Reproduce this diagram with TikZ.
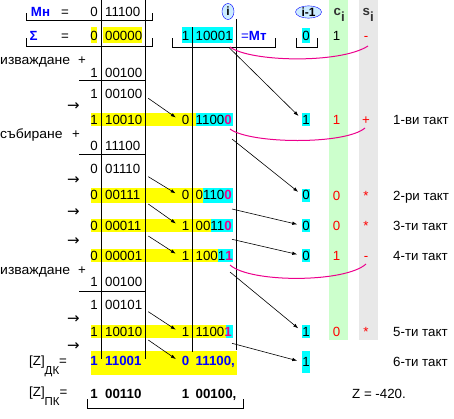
\documentclass[tikz,border=0pt]{standalone}
\usepackage{fontspec}
\setmainfont{Liberation Sans}
\newfontfamily\arrowfont{DejaVu Sans}
\usetikzlibrary{arrows.meta, shapes.geometric}
\definecolor{hlyellow}{RGB}{255,255,0}
\definecolor{hlcyan}{RGB}{0,255,255}
\definecolor{colgreen}{RGB}{204,255,204}
\definecolor{colgray}{RGB}{232,232,232}
\definecolor{ovalfill}{RGB}{204,236,255}
\definecolor{hdgray}{RGB}{51,51,51}
\newcommand{\lastbit}[1]{{\color{magenta}\bfseries #1}}
\newcommand{\wideword}[1]{\scalebox{1.05}[1]{#1}}
\tikzset{
	txt/.style={inner sep=0pt, text height=9.5pt, text depth=0pt, font=\fontsize{13.3pt}{15pt}\selectfont},
	sign/.style={txt},
	bits/.style={txt, anchor=west},
	note/.style={txt, anchor=west},
	prev/.style={txt, fill=hlcyan, minimum width=7pt, minimum height=13pt},
	flag/.style={txt, text=red},
	regname/.style={txt, text=blue, font=\fontsize{13.3pt}{15pt}\selectfont\bfseries},
	total/.style={txt, font=\fontsize{13.3pt}{15pt}\selectfont\bfseries},
	oval/.style={ellipse, draw=blue, fill=ovalfill, inner sep=0pt, font=\fontsize{12pt}{14pt}\selectfont\bfseries},
	colhead/.style={inner sep=0pt, anchor=base west, text=hdgray, font=\fontsize{13.3pt}{15pt}\selectfont\bfseries},
	shiftarrow/.style={txt, font=\arrowfont\fontsize{15pt}{16pt}\selectfont},
	rule/.style={line width=1pt},
	arr/.style={-{Latex[length=5pt,width=3.5pt]}, line width=0.6pt},
	carry/.style={magenta, line width=1pt},
}
\begin{document}
\begin{tikzpicture}[x=1pt, y=-1pt]
	\useasboundingbox (0,0) rectangle (454,418);
	% c_i and s_i columns
	\fill[colgreen] (329,0) rectangle (348,340);
	\fill[colgray] (359,0) rectangle (378,340);
	
	% highlighted bits
	\fill[hlyellow] (91,27) rectangle (97,43.3);
	\fill[hlyellow] (103,27) rectangle (142,43.3);
	\fill[hlcyan] (182,27) rectangle (233,43.3);
	\fill[hlyellow] (91,113.3) rectangle (195.5,125.7);
	\fill[hlcyan] (195.5,113.3) rectangle (233,125.7);
	\fill[hlyellow] (91,187.5) rectangle (203,202.5);
	\fill[hlcyan] (203,187.5) rectangle (233,202.5);
	\fill[hlyellow] (91,219) rectangle (210.5,232);
	\fill[hlcyan] (210.5,219) rectangle (233,232);
	\fill[hlyellow] (91,249) rectangle (218,262);
	\fill[hlcyan] (218,249) rectangle (233,262);
	\fill[hlyellow] (91,325) rectangle (225.5,337.5);
	\fill[hlcyan] (225.5,325) rectangle (233,337.5);
	\fill[hlyellow] (91,350.5) rectangle (237,375);
	
	% register lines
	\draw[rule] (101,0) -- (101,359);
	\draw[rule] (145,0) -- (145,359);
	\draw[rule] (192,27) -- (192,352);
	\draw[rule] (236.5,19) -- (236.5,350);
	\draw[rule] (79,80) -- (145,80);
	\draw[rule] (79,154) -- (145,154);
	\draw[rule] (79,291.5) -- (145,291.5);
	
	% brackets
	\draw[rule] (26,13) -- (26,20) -- (152,20) -- (152,13);
	\draw[rule] (26,38) -- (26,46) -- (152,46) -- (152,38);
	\draw[rule] (172,38) -- (172,47) -- (275,47) -- (275,38);
	\draw[rule] (296,38) -- (296,47) -- (317,47) -- (317,38);
	\draw[rule] (87,399) -- (87,408) -- (243,408) -- (243,399);
	
	% head
	\node[regname] (mn) at (40.5,12) {Мн};
	\node[txt] (mneq) at (65,12) {=};
	\node[sign] (mns) at (94,12) {0};
	\node[bits] (mnd) at (105,12) {11100};
	\node[oval, minimum width=12pt, minimum height=16pt] (ii) at (228,11.5) {i};
	\node[oval, minimum width=26pt, minimum height=12pt] (ip) at (308.5,12) {i-1};
	\node[colhead] (ci) at (333.5,15.5) {c\raisebox{-6pt}{i}};
	\node[colhead] (si) at (362.5,15.5) {s\raisebox{-6pt}{i}};
	
	\node[regname] (sum) at (33.5,35.5) {Σ};
	\node[txt] (sumeq) at (65,35.5) {=};
	\node[sign] (sums) at (94,35.5) {0};
	\node[bits] (sumd) at (105,35.5) {00000};
	\node[sign] (mts) at (185.5,35.5) {1};
	\node[bits] (mtd) at (195.5,35.5) {10001};
	\node[note, text=blue] (mt) at (241,35.5) {=\textbf{Мт}};
	\node[prev, minimum height=15pt] (p0) at (306,35.5) {0};
	\node[txt] (c0) at (336.5,35.5) {1};
	\node[flag] (s0) at (366,35.5) {-};
	
	% 1-ви такт
	\node[note] (sub1) at (0,60) {\wideword{изваждане}};
	\node[txt] (sub1p) at (82,60) {+};
	\node[sign] (k1s) at (94,72.5) {1};
	\node[bits] (k1d) at (105,72.5) {00100};
	\node[sign] (u1s) at (94,93.3) {1};
	\node[bits] (u1d) at (105,93.3) {00100};
	\node[shiftarrow] (h1) at (73.5,106) {→};
	\node[sign] (l1s) at (94,119.5) {1};
	\node[bits] (l1d) at (105,119.5) {10010};
	\node[sign] (r1s) at (185.5,119.5) {0};
	\node[bits] (r1d) at (195.5,119.5) {1100\lastbit{0}};
	\node[prev] (p1) at (306,119.5) {1};
	\node[flag] (c1) at (336.5,119.5) {1};
	\node[flag] (s1) at (366,119.5) {+};
	\node[note] (t1) at (393,120) {1-ви такт};
	
	% 2-ри такт
	\node[note] (add2) at (0,133.5) {\wideword{събиране}};
	\node[txt] (add2p) at (76,133.5) {+};
	\node[sign] (k2s) at (94,146) {0};
	\node[bits] (k2d) at (105,146) {11100};
	\node[sign] (u2s) at (94,168.3) {0};
	\node[bits] (u2d) at (105,168.3) {01110};
	\node[shiftarrow] (h2) at (73.5,180) {→};
	\node[sign] (l2s) at (94,195) {0};
	\node[bits] (l2d) at (105,195) {00111};
	\node[sign] (r2s) at (185.5,195) {0};
	\node[bits] (r2d) at (195.5,195) {0110\lastbit{0}};
	\node[prev] (p2) at (306,195) {0};
	\node[flag] (c2) at (336.5,195.5) {0};
	\node[flag] (s2) at (366,195.5) {*};
	\node[note] (t2) at (393,196) {2-ри такт};
	
	% 3-ти такт
	\node[shiftarrow] (h3) at (73.5,211.7) {→};
	\node[sign] (l3s) at (94,225.5) {0};
	\node[bits] (l3d) at (105,225.5) {00011};
	\node[sign] (r3s) at (185.5,225.5) {1};
	\node[bits] (r3d) at (195.5,225.5) {0011\lastbit{0}};
	\node[prev] (p3) at (306,225.5) {0};
	\node[flag] (c3) at (336.5,225.5) {0};
	\node[flag] (s3) at (366,225.5) {*};
	\node[note] (t3) at (393,225.5) {3-ти такт};
	
	% 4-ти такт
	\node[shiftarrow] (h4) at (73.5,240.5) {→};
	\node[sign] (l4s) at (94,255.5) {0};
	\node[bits] (l4d) at (105,255.5) {00001};
	\node[sign] (r4s) at (185.5,255.5) {1};
	\node[bits] (r4d) at (195.5,255.5) {1001\lastbit{1}};
	\node[prev] (p4) at (306,255.5) {0};
	\node[flag] (c4) at (336.5,255.5) {1};
	\node[flag] (s4) at (366,255.5) {-};
	\node[note] (t4) at (393,255.5) {4-ти такт};
	
	% 5-ти такт
	\node[note] (sub5) at (0,270) {\wideword{изваждане}};
	\node[txt] (sub5p) at (82,270) {+};
	\node[sign] (k5s) at (94,282) {1};
	\node[bits] (k5d) at (105,282) {00100};
	\node[sign] (u5s) at (94,305) {1};
	\node[bits] (u5d) at (105,305) {00101};
	\node[shiftarrow] (h5) at (73.5,318.3) {→};
	\node[sign] (l5s) at (94,331.5) {1};
	\node[bits] (l5d) at (105,331.5) {10010};
	\node[sign] (r5s) at (185.5,331.5) {1};
	\node[bits] (r5d) at (195.5,331.5) {1100\lastbit{1}};
	\node[prev] (p5) at (306,331.5) {1};
	\node[flag] (c5) at (336.5,331.5) {0};
	\node[flag] (s5) at (366,331.5) {*};
	\node[note] (t5) at (393,332) {5-ти такт};
	
	% 6-ти такт and result
	\node[shiftarrow] (h6) at (73.5,346) {→};
	\node[note] (zdk) at (29,360.5) {[Z]\raisebox{-9pt}{\fontsize{11.5pt}{13pt}\selectfont ДК}=};
	\node[total, text=blue] (l6s) at (94,361) {1};
	\node[total, text=blue, anchor=west] (l6d) at (105,361) {11001};
	\node[total, text=blue] (r6s) at (185.5,361) {0};
	\node[total, text=blue, anchor=west] (r6d) at (195.5,361) {11100,};
	\node[prev, minimum height=22pt] (p6) at (306,362) {1};
	\node[note] (t6) at (393,362) {6-ти такт};
	
	\node[note] (zpk) at (29,391.5) {[Z]\raisebox{-9pt}{\fontsize{11.5pt}{13pt}\selectfont ПК}=};
	\node[total] (l7s) at (94,393.5) {1};
	\node[total, anchor=west] (l7d) at (105,393.5) {00110};
	\node[total] (r7s) at (185.5,393.5) {1};
	\node[total, anchor=west] (r7d) at (195.5,393.5) {00100,};
	\node[note] (zval) at (352,393.5) {Z = -420.};
	
	% shifted bits
	\coordinate (b1) at (148.3,98.3);
	\coordinate (b2) at (148.3,176.7);
	\coordinate (b3) at (148.3,204);
	\coordinate (b4) at (148.3,236);
	\coordinate (b5) at (148.3,311.7);
	\coordinate (b6) at (148.3,340);
	\coordinate (a1) at (229,47.5);
	\coordinate (a2) at (232,139);
	\coordinate (a3) at (232,209);
	\coordinate (a4) at (232,239.3);
	\coordinate (a5) at (230,272);
	\coordinate (a6) at (232,343.3);
	
	\begin{scope}[arr]
		\draw[shorten >=7pt] (b1) -- ([yshift=-2pt]r1s.west);
		\draw[shorten >=7pt] (b2) -- ([yshift=-2pt]r2s.west);
		\draw[shorten >=7pt] (b3) -- ([yshift=-2pt]r3s.west);
		\draw[shorten >=7pt] (b4) -- ([yshift=-2pt]r4s.west);
		\draw[shorten >=7pt] (b5) -- ([yshift=-2pt]r5s.west);
		\draw[shorten >=7pt] (b6) -- ([yshift=-2pt]r6s.west);
		
		\draw[shorten >=5pt] (a1) -- (p1.west);
		\draw[shorten >=5pt] (a2) -- (p2.west);
		\draw[shorten >=5pt] (a3) -- (p3.west);
		\draw[shorten >=5pt] (a4) -- (p4.west);
		\draw[shorten >=5pt] (a5) -- (p5.west);
		\draw[shorten >=5pt] (a6) -- (p6.west);
	\end{scope}
	
	% carries to s_i
	\draw[carry] (230,47) .. controls (250,62) and (340,64) .. (368,46);
	\draw[carry] (230,129) .. controls (250,144) and (345,145) .. (365,128);
	\draw[carry] (230,265) .. controls (250,283) and (345,283) .. (366,264);
\end{tikzpicture}
\end{document}
